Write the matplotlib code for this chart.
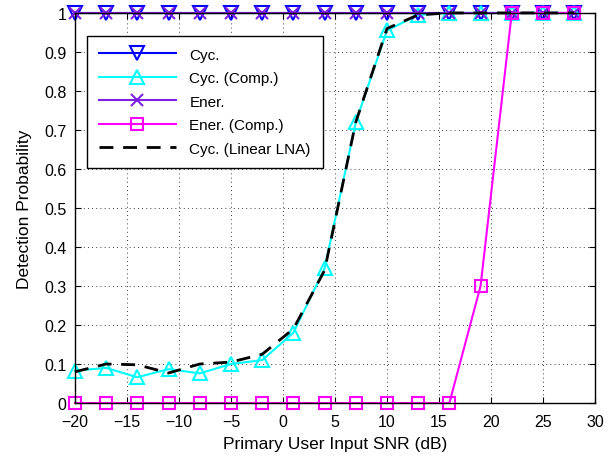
import numpy as np
import matplotlib
matplotlib.use('Agg')
import matplotlib.pyplot as plt

plt.rcParams['font.family'] = ['Liberation Sans', 'DejaVu Sans']

# Donnees
snr = [-20, -17, -14, -11, -8, -5, -2, 1, 4, 7, 10, 13, 16, 19, 22, 25, 28]
cyc = [1, 1, 1, 1, 1, 1, 1, 1, 1, 1, 1, 1, 1, 1, 1, 1, 1]
cyc_comp = [0.083, 0.09, 0.066, 0.087, 0.076, 0.10, 0.11, 0.18, 0.345, 0.72, 0.955, 0.995, 1, 1, 1, 1, 1]
ener = [1, 1, 1, 1, 1, 1, 1, 1, 1, 1, 1, 1, 1, 1, 1, 1, 1]
ener_comp = [0, 0, 0, 0, 0, 0, 0, 0, 0, 0, 0, 0, 0, 0.3, 1, 1, 1]
cyc_lin = [0.08, 0.10, 0.098, 0.077, 0.10, 0.105, 0.125, 0.19, 0.34, 0.72, 0.96, 0.995, 1, 1, 1, 1, 1]

xticks = [-20, -15, -10, -5, 0, 5, 10, 15, 20, 25, 30]
yticks = [0, 0.1, 0.2, 0.3, 0.4, 0.5, 0.6, 0.7, 0.8, 0.9, 1]
ylabels = ['0', '0.1', '0.2', '0.3', '0.4', '0.5', '0.6', '0.7', '0.8', '0.9', '1']

fig = plt.figure(figsize=(6.13, 4.6), dpi=100)
ax = fig.add_axes([0.1223, 0.1217, 0.8483, 0.848])

lw = 1.5
ax.plot(snr, cyc, color='#0000ff', lw=lw, marker='v', ms=10, mfc='none', mew=1.5, clip_on=False, label='Cyc.')
ax.plot(snr, cyc_comp, color='#00ffff', lw=lw, marker='^', ms=10, mfc='none', mew=1.5, clip_on=False, label='Cyc. (Comp.)')
ax.plot(snr, ener, color='#7f1fe0', lw=lw, marker='x', ms=8, mew=1.5, clip_on=False, label='Ener.')
ax.plot(snr, ener_comp, color='#ff00ff', lw=lw, marker='s', ms=9, mfc='none', mew=1.5, clip_on=False, label='Ener. (Comp.)')
ax.plot(snr, cyc_lin, color='black', lw=2, ls=(0, (5, 3.5)), clip_on=False, label='Cyc. (Linear LNA)')

ax.set_xlim(-20, 30)
ax.set_ylim(0, 1)
ax.set_xticks(xticks)
ax.set_yticks(yticks)
ax.set_yticklabels(ylabels)
ax.tick_params(direction='in', top=True, right=True, labelsize=11.5, length=4)
ax.tick_params(axis='x', pad=8)
ax.tick_params(axis='y', pad=6)
ax.grid(True, color='black', ls=(0, (1, 4)), lw=0.6)
for s in ax.spines.values():
    s.set_linewidth(1)

ax.set_xlabel('Primary User Input SNR (dB)', fontsize=12.5, labelpad=5)
ax.set_ylabel('Detection Probability', fontsize=12.5, labelpad=9)

leg = ax.legend(loc='upper left', bbox_to_anchor=(0.023, 0.942), borderaxespad=0, numpoints=1, fontsize=11,
                fancybox=False, framealpha=1, edgecolor='black', handlelength=5,
                handletextpad=0.9, borderpad=0.8, labelspacing=0.62)
leg.get_frame().set_linewidth(1)

plt.savefig('out.png', dpi=100)
